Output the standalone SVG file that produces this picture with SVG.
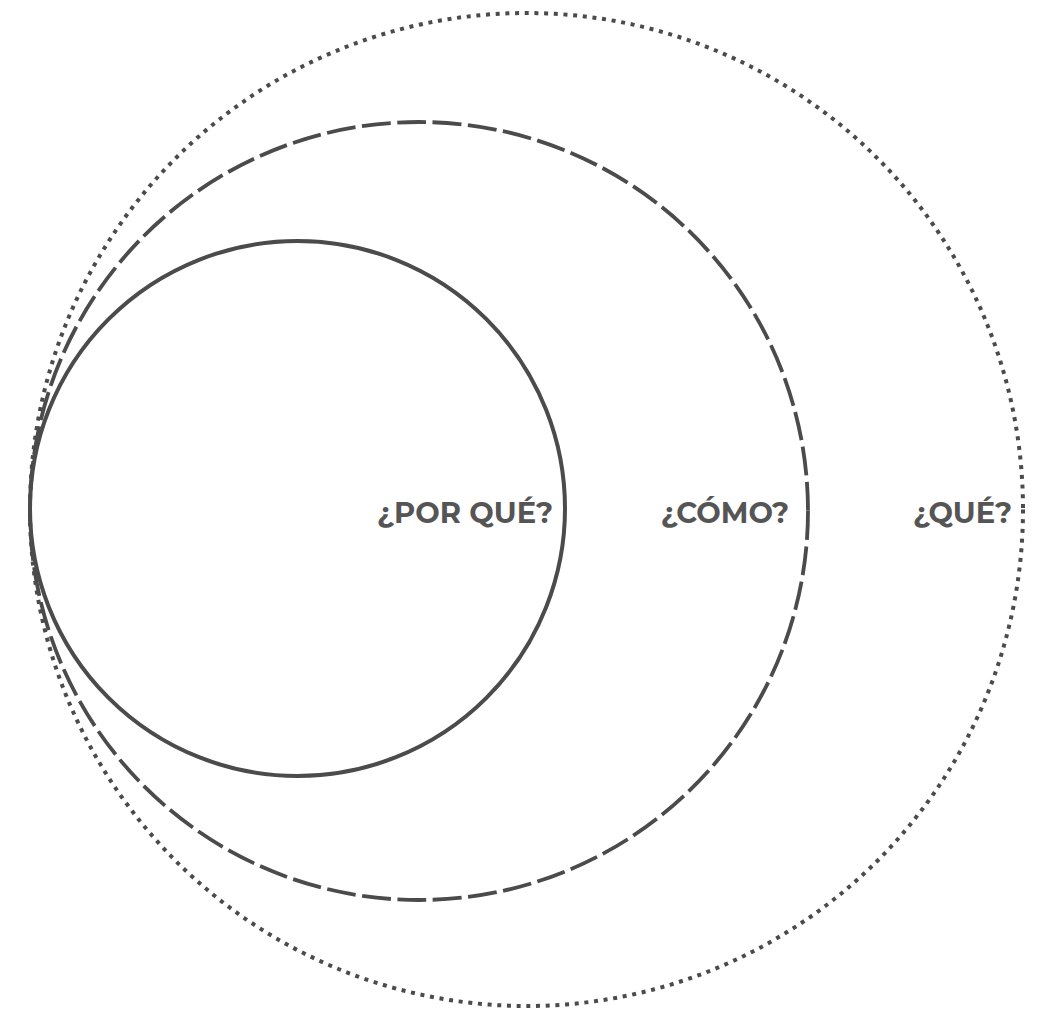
<svg xmlns="http://www.w3.org/2000/svg" width="1038" height="1010" viewBox="0 0 1038 1010">
<style>
.ring{fill:none;stroke:#4b4b4b;}
.lbl{font-family:Montserrat,"Open Sans","Liberation Sans",sans-serif;font-weight:700;font-size:29px;fill:#555555;text-anchor:middle;}
</style>
<rect width="1038" height="1010" fill="#ffffff"/>
<g id="que">
<circle class="ring" cx="526.5" cy="509.5" r="496.5" stroke-width="4" stroke-dasharray="4 5.7"/>
<text class="lbl" x="962.5" y="523">¿QUÉ?</text>
</g>
<g id="como">
<circle class="ring" cx="419" cy="511" r="389" stroke-width="3.8" stroke-dasharray="29 6.5"/>
<text class="lbl" x="725" y="523">¿CÓMO?</text>
</g>
<g id="porque">
<circle class="ring" cx="297.5" cy="508.5" r="267.5" stroke-width="4"/>
<text class="lbl" x="465" y="523">¿POR QUÉ?</text>
</g>
<g id="connectors"></g>
</svg>
